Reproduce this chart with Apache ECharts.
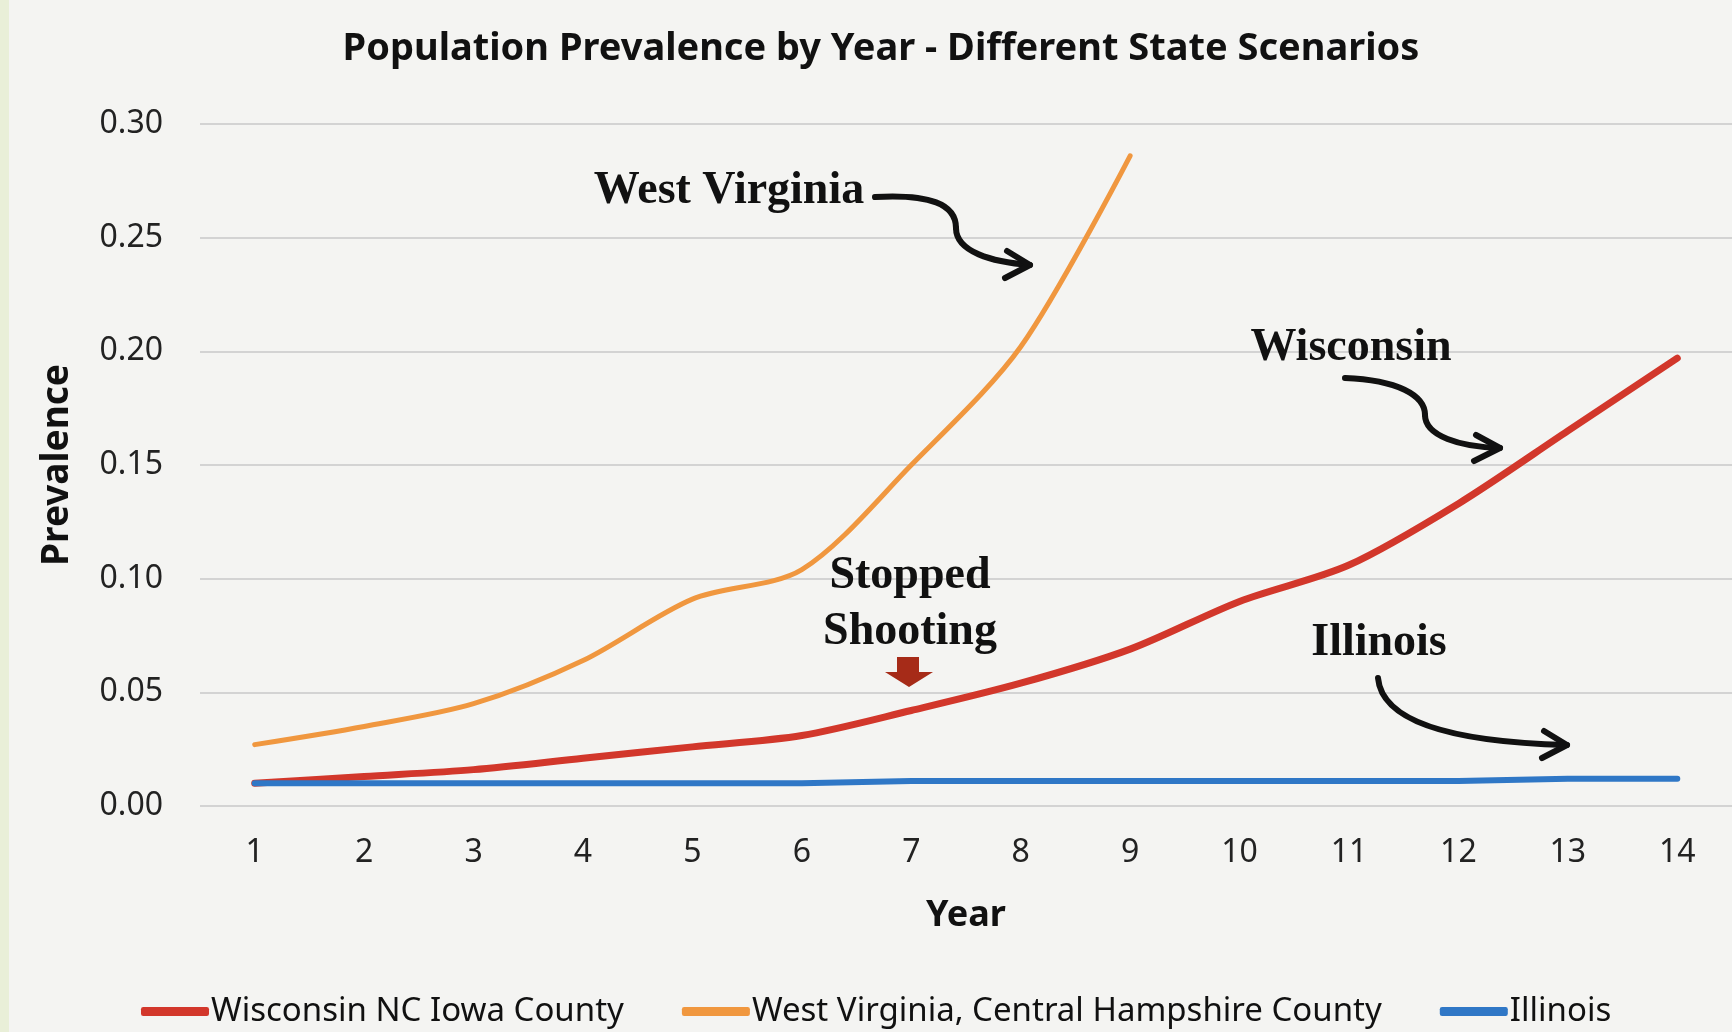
<!DOCTYPE html>
<html lang="en">
<head>
<meta charset="UTF-8">
<style>
html, body { height: 100%; margin: 0; }
</style>
</head>
<body>
<div id="chart" style="width:1732px;height:1032px;"></div>
<script src="https://cdn.jsdelivr.net/npm/echarts@6/dist/echarts.min.js"></script>
<script>
// data
var years = ['1', '2', '3', '4', '5', '6', '7', '8', '9', '10', '11', '12', '13', '14'];
var wisconsin = [0.010, 0.013, 0.016, 0.021, 0.026, 0.031, 0.042, 0.054, 0.069, 0.090, 0.106, 0.133, 0.165, 0.197];
var westVirginia = [0.027, 0.035, 0.045, 0.064, 0.091, 0.104, 0.150, 0.202, 0.286];
var illinois = [0.010, 0.010, 0.010, 0.010, 0.010, 0.010, 0.011, 0.011, 0.011, 0.011, 0.011, 0.011, 0.012, 0.012];

var sans = 'Noto Sans';
var serif = 'Liberation Serif';
var ink = { fill: null, stroke: '#111', lineWidth: 6, lineCap: 'round', lineJoin: 'round' };

// hand-drawn annotation arrows: list of cubic segments + chevron head
function curvedArrow(segs, head) {
    var out = segs.map(function (s) {
        return {
            type: 'bezierCurve', z: 100,
            shape: { x1: s[0], y1: s[1], cpx1: s[2], cpy1: s[3], cpx2: s[4], cpy2: s[5], x2: s[6], y2: s[7] },
            style: ink
        };
    });
    out.push({ type: 'polyline', z: 100, shape: { points: head }, style: ink });
    return out;
}

function note(txt, x, y) {
    return {
        type: 'text', z: 100, x: x, y: y,
        style: { text: txt, font: 'bold 46px ' + serif, fill: '#111', align: 'center', verticalAlign: 'middle' }
    };
}

var myChart = echarts.init(document.getElementById('chart'));
myChart.setOption({
    backgroundColor: '#f4f4f2',
    animation: false,
    title: {
        text: 'Population Prevalence by Year - Different State Scenarios',
        left: 876,
        top: 25,
        textAlign: 'center',
        textStyle: { fontFamily: sans, fontWeight: 'bold', fontSize: 38, color: '#111' }
    },
    legend: {
        left: 136,
        top: 990,
        itemWidth: 68,
        itemHeight: 9,
        itemGap: 58,
        icon: 'roundRect',
        textStyle: { fontFamily: sans, fontSize: 33, color: '#111', padding: [0, 0, 0, -3] },
        data: ['Wisconsin NC Iowa County', 'West Virginia, Central Hampshire County', 'Illinois']
    },
    grid: { left: 200, right: 0, top: 124, bottom: 226, containLabel: false },
    xAxis: {
        type: 'category',
        data: years,
        boundaryGap: true,
        name: 'Year',
        nameLocation: 'middle',
        nameGap: 92,
        nameTextStyle: { fontFamily: sans, fontWeight: 'bold', fontSize: 36, color: '#111' },
        axisLine: { show: false },
        axisTick: { show: false },
        axisLabel: { fontFamily: sans, fontSize: 32, color: '#222', margin: 31 }
    },
    yAxis: {
        type: 'value',
        min: 0,
        max: 0.30,
        interval: 0.05,
        name: 'Prevalence',
        nameLocation: 'middle',
        nameRotate: 90,
        nameGap: 124,
        nameTextStyle: { fontFamily: sans, fontWeight: 'bold', fontSize: 37, color: '#111' },
        axisLine: { show: false },
        axisTick: { show: false },
        splitLine: { lineStyle: { color: '#d3d3d3', width: 2 } },
        axisLabel: {
            fontFamily: sans, fontSize: 32, color: '#222', margin: 37,
            formatter: function (v) { return v.toFixed(2); }
        }
    },
    series: [
        {
            name: 'Wisconsin NC Iowa County', type: 'line', data: wisconsin, smooth: 0.3,
            showSymbol: false, color: '#d2372b', lineStyle: { width: 7, cap: 'round' }, z: 3
        },
        {
            name: 'West Virginia, Central Hampshire County', type: 'line', data: westVirginia, smooth: 0.3,
            showSymbol: false, color: '#f0973f', lineStyle: { width: 5, cap: 'round' }, z: 2
        },
        {
            name: 'Illinois', type: 'line', data: illinois, smooth: false,
            showSymbol: false, color: '#2f77c6', lineStyle: { width: 6, cap: 'round' }, z: 4
        }
    ],
    graphic: [
        { type: 'rect', left: 0, top: 0, shape: { width: 9, height: 1032 }, style: { fill: '#e9efd8' } },
        note('West Virginia', 729, 191),
        note('Wisconsin', 1351, 348),
        note('Illinois', 1379, 643),
        note('Stopped', 910, 576),
        note('Shooting', 910, 632),
        { type: 'polygon', z: 100, shape: { points: [[897, 657], [919, 657], [919, 672], [933, 672], [909, 687], [885, 672], [897, 672]] }, style: { fill: '#a62b18' } }
    ]
        .concat(curvedArrow([[875, 197, 930, 194, 956, 204, 956, 228], [956, 228, 956, 252, 992, 262, 1030, 265]], [[1007, 251], [1030, 265], [1005, 278]]))
        .concat(curvedArrow([[1345, 378, 1397, 380, 1425, 395, 1425, 415], [1425, 415, 1425, 436, 1460, 447, 1500, 448]], [[1476, 435], [1500, 448], [1474, 461]]))
        .concat(curvedArrow([[1378, 678, 1382, 722, 1452, 742, 1567, 745]], [[1544, 731], [1567, 745], [1542, 758]]))
});
</script>
</body>
</html>
